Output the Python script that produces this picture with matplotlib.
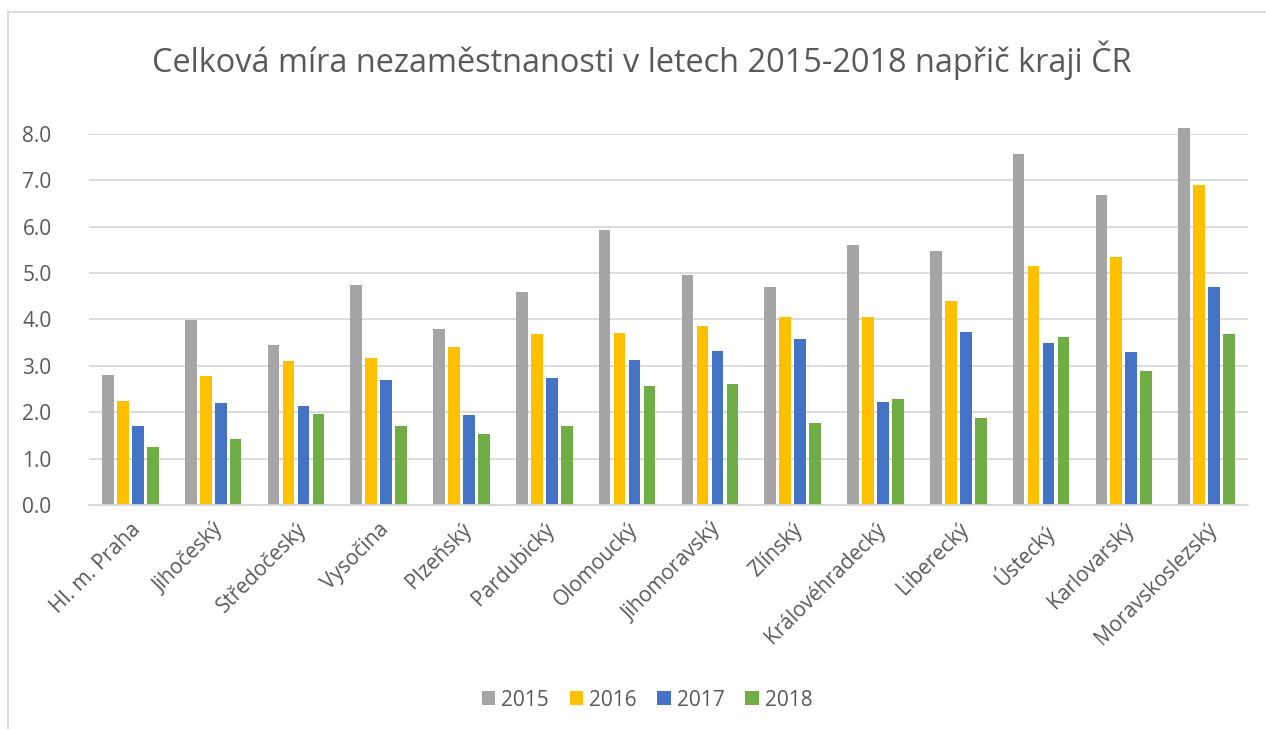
import matplotlib
matplotlib.use("Agg")
import matplotlib.pyplot as plt
from matplotlib.lines import Line2D
import numpy as np

regions = ["Hl. m. Praha", "Jihočeský", "Středočeský", "Vysočina", "Plzeňský",
           "Pardubický", "Olomoucký", "Jihomoravský", "Zlínský", "Královéhradecký",
           "Liberecký", "Ústecký", "Karlovarský", "Moravskoslezský"]
years = ["2015", "2016", "2017", "2018"]
v2015 = [2.80, 3.99, 3.45, 4.73, 3.79, 4.58, 5.92, 4.96, 4.70, 5.60, 5.48, 7.56, 6.69, 8.13]
v2016 = [2.24, 2.77, 3.11, 3.17, 3.41, 3.68, 3.70, 3.86, 4.05, 4.05, 4.40, 5.14, 5.34, 6.90]
v2017 = [1.71, 2.19, 2.13, 2.69, 1.94, 2.74, 3.12, 3.32, 3.58, 2.22, 3.73, 3.48, 3.29, 4.70]
v2018 = [1.26, 1.42, 1.97, 1.70, 1.52, 1.71, 2.56, 2.61, 1.77, 2.28, 1.87, 3.62, 2.88, 3.68]
yticks = [0, 1, 2, 3, 4, 5, 6, 7, 8]
title = "Celková míra nezaměstnanosti v letech 2015-2018 napřič kraji ČR"

colors = ["#a5a5a5", "#ffc000", "#4472c4", "#70ad47"]
series = [v2015, v2016, v2017, v2018]
txt = "#595959"
grid = "#d9d9d9"

plt.rcParams['font.family'] = ['Open Sans', 'DejaVu Sans']

W, H = 1266, 729
fig = plt.figure(figsize=(W / 100, H / 100), dpi=100)

# chart border (partially cropped)
fig.add_artist(Line2D([8 / W, 1.0], [1 - 12 / H, 1 - 12 / H], transform=fig.transFigure,
                      color=grid, lw=1.3))
fig.add_artist(Line2D([8 / W, 8 / W], [1 - 12 / H, 0], transform=fig.transFigure,
                      color=grid, lw=1.3))

ax = fig.add_axes([89 / W, 1 - 505 / H, (1248 - 89) / W, (505 - 133.7) / H])
x = np.arange(len(regions))
step = 0.181
width = 0.141
for j, (vals, c, lab) in enumerate(zip(series, colors, years)):
    ax.bar(x + (j - 1.5) * step, vals, width=width, color=c, label=lab,
           clip_on=False, zorder=3)

ax.set_xlim(-0.5, len(regions) - 0.5)
ax.set_ylim(0, 8)
ax.set_yticks(yticks)
ax.set_yticklabels([f"{t:.1f}" for t in yticks], color=txt, fontsize=15)
ax.tick_params(axis='y', length=0, pad=27)
ax.tick_params(axis='x', length=0, pad=10)
ax.set_xticks(x)
ax.set_xticklabels(regions, rotation=45, ha='right', rotation_mode='anchor',
                   color=txt, fontsize=15)
ax.grid(axis='y', color=grid, lw=1.3, zorder=0)
for s in ['top', 'right', 'left']:
    ax.spines[s].set_visible(False)
ax.spines['bottom'].set_color(grid)
ax.spines['bottom'].set_linewidth(1.3)
ax.spines['bottom'].set_zorder(4)

# title fitted to width
t = fig.text(642 / W, 1 - 60 / H, title, ha='center', va='center', color=txt, fontsize=20)
fig.canvas.draw()
bb = t.get_window_extent()
t.set_fontsize(20 * 981 / bb.width)

handles, labels = ax.get_legend_handles_labels()
fig.legend(handles, labels, loc='center', bbox_to_anchor=(647 / W, 1 - 700 / H), ncol=4,
           frameon=False, fontsize=15, handlelength=0.63, handleheight=0.63,
           handletextpad=0.3, columnspacing=1.0, labelcolor=txt)

fig.savefig("out.png", dpi=100)
